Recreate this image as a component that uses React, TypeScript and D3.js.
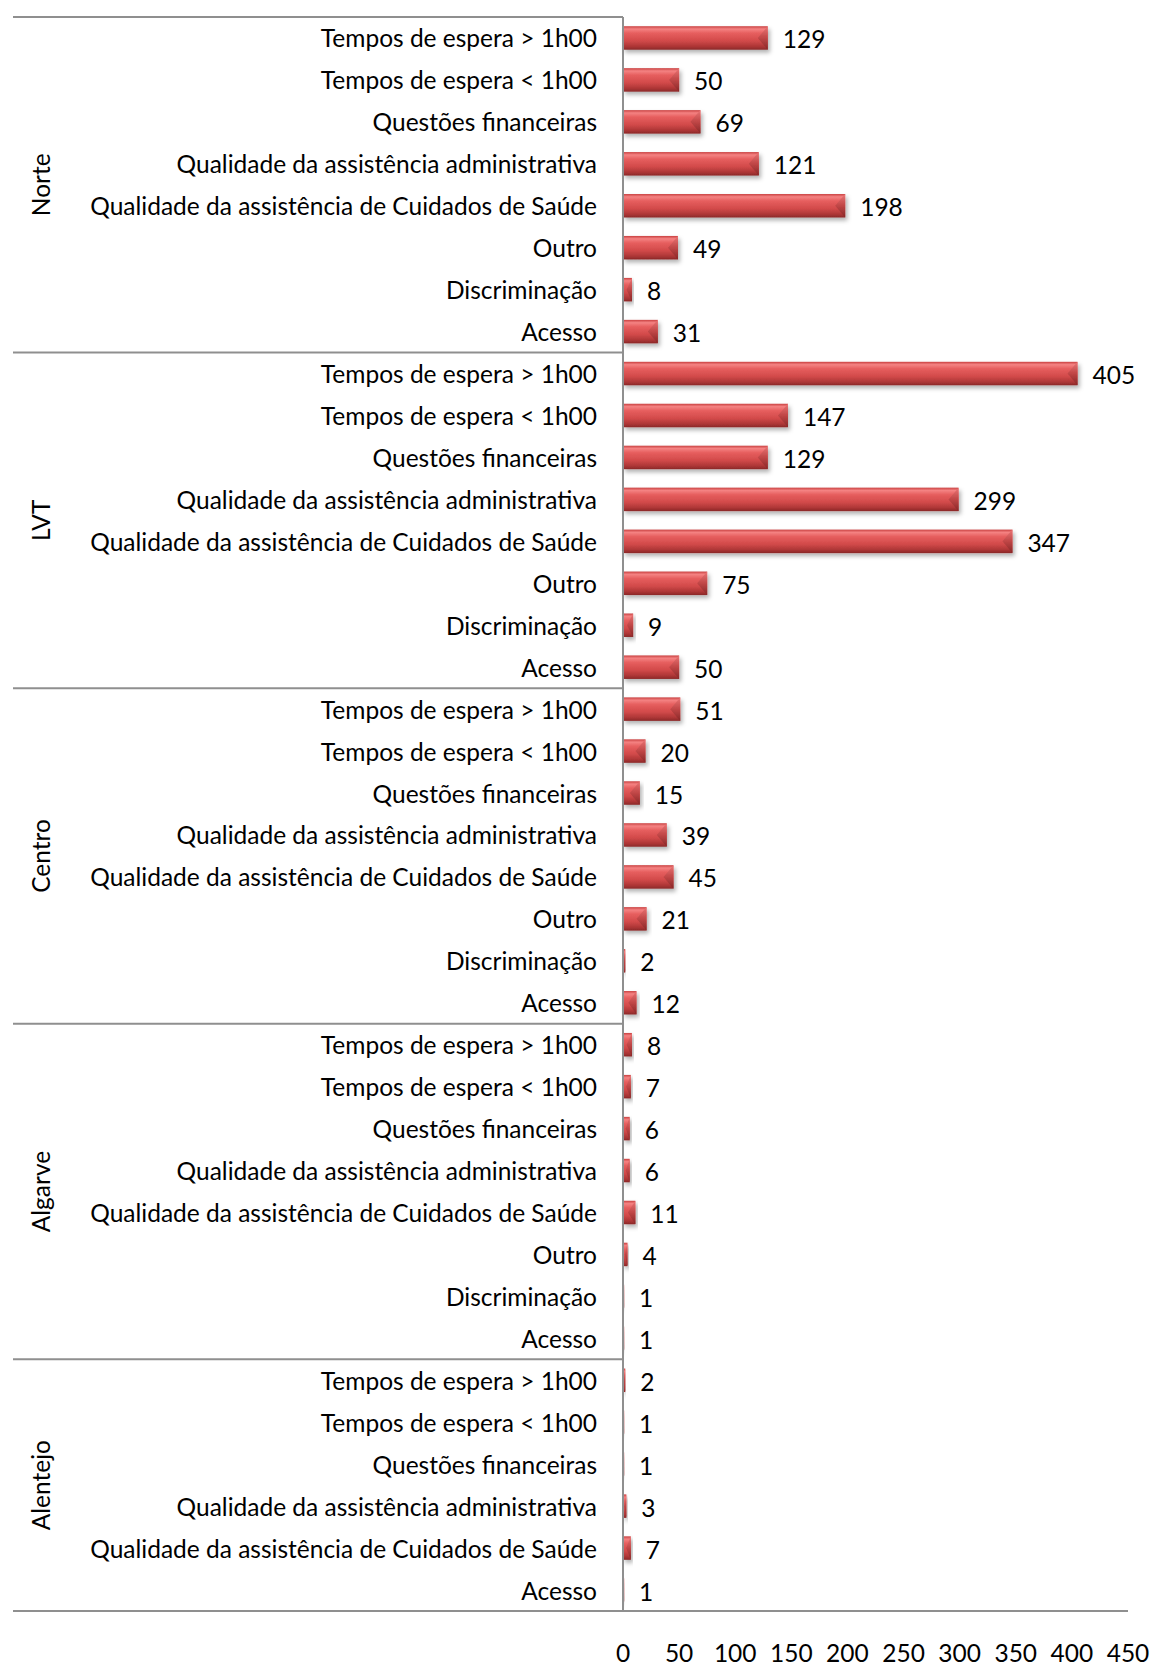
import React from "react";
import * as d3 from "d3";

// Regions, top to bottom
const regions = ["Norte", "LVT", "Centro", "Algarve", "Alentejo"];

// Complaint categories shown for most regions (top to bottom)
const fullCategories = [
  "Tempos de espera > 1h00",
  "Tempos de espera < 1h00",
  "Questões financeiras",
  "Qualidade da assistência administrativa",
  "Qualidade da assistência de Cuidados de Saúde",
  "Outro",
  "Discriminação",
  "Acesso",
];

// Alentejo has no "Outro" or "Discriminação" entries
const alentejoCategories = [
  "Tempos de espera > 1h00",
  "Tempos de espera < 1h00",
  "Questões financeiras",
  "Qualidade da assistência administrativa",
  "Qualidade da assistência de Cuidados de Saúde",
  "Acesso",
];

const norteValues = [129, 50, 69, 121, 198, 49, 8, 31];
const lvtValues = [405, 147, 129, 299, 347, 75, 9, 50];
const centroValues = [51, 20, 15, 39, 45, 21, 2, 12];
const algarveValues = [8, 7, 6, 6, 11, 4, 1, 1];
const alentejoValues = [2, 1, 1, 3, 7, 1];

const axisTicks = [0, 50, 100, 150, 200, 250, 300, 350, 400, 450];

const W = 1152;
const H = 1665;
const FONT = "Lato, 'Open Sans', sans-serif";
const FS = 24.5;

type Row = { id: string; region: string; category: string; value: number };

const groups = [
  { region: regions[0], cats: fullCategories, vals: norteValues },
  { region: regions[1], cats: fullCategories, vals: lvtValues },
  { region: regions[2], cats: fullCategories, vals: centroValues },
  { region: regions[3], cats: fullCategories, vals: algarveValues },
  { region: regions[4], cats: alentejoCategories, vals: alentejoValues },
];

const rows: Row[] = groups.flatMap((g) =>
  g.cats.map((c, i) => ({ id: `${g.region}|${c}`, region: g.region, category: c, value: g.vals[i] }))
);

export default function App() {
  const top = 17;
  const bottom = 1611;
  const axisX = 623;
  const leftX = 13;

  const y = d3
    .scaleBand<string>()
    .domain(rows.map((r) => r.id))
    .range([top, bottom])
    .paddingInner(0.44)
    .paddingOuter(0.22);
  const step = y.step();
  const bh = y.bandwidth();

  const x = d3.scaleLinear().domain([0, 450]).range([axisX, 1128]);

  // group boundaries
  let cursor = 0;
  const bounds = groups.map((g) => {
    const start = cursor;
    cursor += g.cats.length;
    return {
      region: g.region,
      y0: top + start * step,
      y1: top + cursor * step,
    };
  });

  const lineColor = "#8f8f8f";

  return (
    <svg
      width={W}
      height={H}
      viewBox={`0 0 ${W} ${H}`}
      style={{ position: "absolute", left: 0, top: 0, background: "#fff" }}
      fontFamily={FONT}
    >
      <defs>
        <linearGradient id="barBody" x1="0" y1="0" x2="0" y2="1">
          <stop offset="0" stopColor="#c94040" />
          <stop offset="0.12" stopColor="#f48282" />
          <stop offset="0.3" stopColor="#e65e5e" />
          <stop offset="0.62" stopColor="#d24a4a" />
          <stop offset="0.86" stopColor="#ad3636" />
          <stop offset="1" stopColor="#8a2828" />
        </linearGradient>
        <linearGradient id="barCap" x1="0" y1="0" x2="0" y2="1">
          <stop offset="0" stopColor="#ea7676" />
          <stop offset="0.5" stopColor="#c04646" />
          <stop offset="1" stopColor="#862626" />
        </linearGradient>
        <filter id="barShadow" x="-10%" y="-30%" width="130%" height="180%">
          <feDropShadow dx="2" dy="3" stdDeviation="2" floodColor="#000" floodOpacity="0.3" />
        </filter>
      </defs>

      {/* bars */}
      <g>
        {rows.map((r) => {
          const y0 = y(r.id)!;
          const x0 = x(0);
          const x1 = x(r.value);
          const w = x1 - x0;
          const d = Math.min(10, w * 0.6);
          return (
            <g key={r.id} filter="url(#barShadow)">
              <rect x={x0} y={y0} width={w} height={bh} fill="url(#barBody)" />
              <polygon
                points={`${x1},${y0} ${x1 - d},${y0 + bh / 2} ${x1},${y0 + bh}`}
                fill="url(#barCap)"
              />
            </g>
          );
        })}
      </g>

      {/* value labels */}
      <g fontSize={FS} fill="#000">
        {rows.map((r) => (
          <text
            key={r.id}
            x={x(r.value) + 15}
            y={y(r.id)! + bh / 2 + 1}
            dominantBaseline="central"
          >
            {r.value}
          </text>
        ))}
      </g>

      {/* category labels */}
      <g fontSize={FS} fill="#000" textAnchor="end">
        {rows.map((r) => (
          <text key={r.id} x={597} y={y(r.id)! + bh / 2} dominantBaseline="central">
            {r.category}
          </text>
        ))}
      </g>

      {/* region labels */}
      <g fontSize={FS} fill="#000" textAnchor="middle">
        {bounds.map((b) => {
          const cy = (b.y0 + b.y1) / 2;
          return (
            <text
              key={b.region}
              transform={`translate(40,${cy}) rotate(-90)`}
              dominantBaseline="central"
            >
              {b.region}
            </text>
          );
        })}
      </g>

      {/* grid structure */}
      <g stroke={lineColor} strokeWidth={2} fill="none">
        {bounds.map((b) => (
          <line key={b.region} x1={leftX} x2={axisX} y1={b.y0} y2={b.y0} />
        ))}
        <line x1={leftX} x2={x(450)} y1={bottom} y2={bottom} />
        <line x1={axisX} x2={axisX} y1={top} y2={bottom} />
      </g>

      {/* value axis tick labels */}
      <g fontSize={FS} fill="#000" textAnchor="middle">
        {axisTicks.map((t) => (
          <text key={t} x={x(t)} y={1652} dominantBaseline="central">
            {t}
          </text>
        ))}
      </g>
    </svg>
  );
}
